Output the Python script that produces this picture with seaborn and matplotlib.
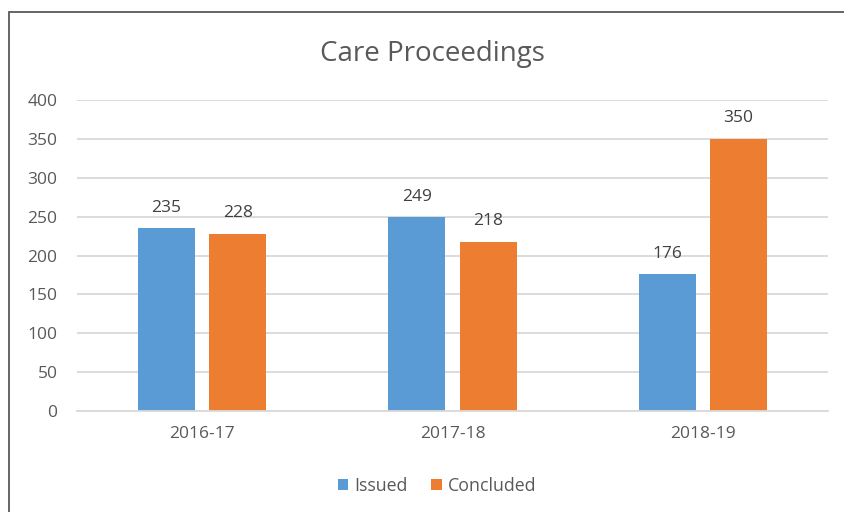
import matplotlib
matplotlib.use("Agg")
import matplotlib.pyplot as plt
import seaborn as sns
import pandas as pd
from matplotlib.patches import Rectangle

categories = ["2016-17", "2017-18", "2018-19"]
series_names = ["Issued", "Concluded"]
issued = [235, 249, 176]
concluded = [228, 218, 350]
yticks = [0, 50, 100, 150, 200, 250, 300, 350, 400]

df = pd.DataFrame({
    "Year": categories * 2,
    "Series": [series_names[0]] * 3 + [series_names[1]] * 3,
    "Value": issued + concluded,
})

sns.set_theme(style="white")
plt.rcParams["font.family"] = ["Open Sans", "DejaVu Sans"]

gray = "#595959"
fig = plt.figure(figsize=(8.45, 5.12), dpi=100)
ax = fig.add_axes([77 / 845, 1 - 411 / 512, (828 - 77) / 845, (411 - 100) / 512])

sns.barplot(data=df, x="Year", y="Value", hue="Series", order=categories,
            hue_order=series_names, palette=["#5B9BD5", "#ED7D31"],
            width=0.57, gap=0.2, saturation=1, ax=ax, legend=True, errorbar=None,
            linewidth=0)

ax.set_xlim(-0.5, 2.5)
ax.set_ylim(0, 400)
ax.set_yticks(yticks)
ax.set_yticklabels([str(v) for v in yticks])
ax.yaxis.grid(True, color="#d9d9d9", linewidth=1.3)
ax.set_axisbelow(True)
for s in ["left", "right", "top"]:
    ax.spines[s].set_visible(False)
ax.spines["bottom"].set_color("#d9d9d9")
ax.spines["bottom"].set_linewidth(1.3)
ax.tick_params(axis="y", length=0, pad=14, labelsize=12.5, labelcolor=gray)
ax.tick_params(axis="x", length=0, pad=11, labelsize=12.5, labelcolor=gray)
ax.set_xlabel("")
ax.set_ylabel("")

for cont in ax.containers:
    ax.bar_label(cont, fmt="%d", padding=9, fontsize=12.5, color="#404040")

fig.text(432 / 845, 1 - 54 / 512, "Care Proceedings", ha="center", va="center",
         fontsize=20, color=gray)

leg = ax.legend(loc="center", bbox_to_anchor=(437 / 845, 1 - 486 / 512),
                bbox_transform=fig.transFigure, ncol=2, frameon=False,
                fontsize=12.8, handlelength=0.6, handleheight=0.6,
                handletextpad=0.35, columnspacing=1.3)
for t in leg.get_texts():
    t.set_color(gray)

fig.patches.append(Rectangle((9 / 845, -0.1), 1.2, 1 - 12 / 512 + 0.1,
                             transform=fig.transFigure, fill=False,
                             edgecolor="#595959", linewidth=1.3))

fig.savefig("out.png", dpi=100, facecolor="white")
